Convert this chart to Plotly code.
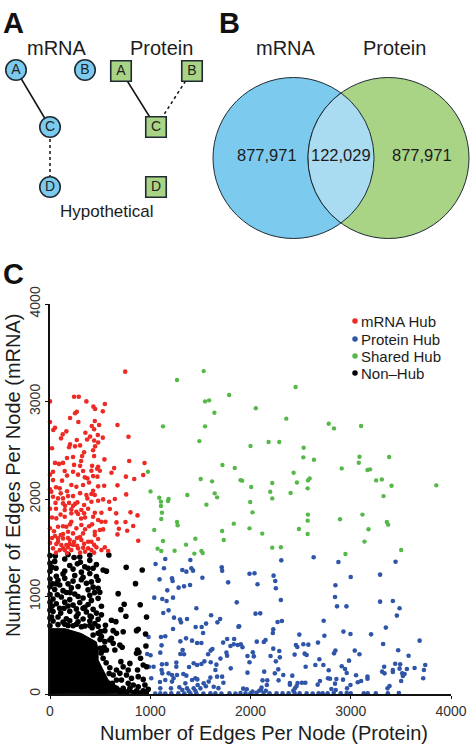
import numpy as np
import plotly.graph_objects as go

# ---------- Panel C data (edges per node: protein, mRNA) ----------
mrna_hub = [(750,3306),(240,3049),(287,3049),(0,3001),(363,3001),(547,2974),(433,2947),(450,2923),(527,2899),(267,2895),
(250,2880),(200,2830),(283,2789),(0,2790),(447,2800),(490,2759),(673,2759),(417,2748),(50,2731),(33,2707),(440,2715),(163,2694),
(353,2680),(127,2663),(110,2622),(477,2656),(527,2629),(783,2639),(267,2605),(400,2640),(370,2610),(440,2600),(480,2580),(200,2560),
(190,2530),(250,2540),(300,2550),(450,2540),(20,2520),(430,2500),(340,2480),(230,2430),(170,2420),(320,2440),(440,2440),(543,2406),
(790,2389),(943,2369),(310,2390),(50,2370),(90,2360),(130,2370),(240,2350),(300,2340),(420,2340),(480,2330),(470,2310),(640,2317),
(30,2280),(147,2287),(230,2280),(330,2287),(413,2290),(497,2290),(613,2270),(757,2229),(840,2205),(930,2246),(347,2222),(373,2212),
(213,2143),(263,2126),(330,2143),(430,2235),(473,2229),(30,2194),(120,2188),(97,2109),(13,2075),(107,2058),(540,2136),(673,2140),
(760,2047),(430,2085),(413,2051),(363,2041),(447,2041),(373,2006),(30,2023),(80,2006),(130,2006),(180,2030),(230,2030),(130,1955),
(273,1965),(340,1938),(480,1982),(530,1996),(590,1972),(647,2000),(413,1972),(147,1887),(213,1894),(263,1870),(313,1887),(340,1853),
(63,1801),(147,1818),(213,1853),(280,1846),(447,1859),(513,1859),(597,1897),(660,1853),(803,1863),(873,1832),(430,1818),(480,1784),
(513,1767),(553,1767),(213,1767),(163,1716),(80,1716),(663,1760),(753,1764),(830,1723),(313,1733),(263,1699),(687,1695),(770,1675),
(497,1682),(447,1664),(530,1688),(107,1630),(180,1664),(230,1647),(330,1647),(673,1637),(447,1630),(80,1596),(130,1596),(197,1579),
(313,1579),(380,1562),(413,1562),(480,1589),(880,1572),(80,1562),(163,1528),(230,1528),(147,1476),(213,1476),(280,1494),(380,1494),
(463,1504),(547,1504),(580,1466),(30,1494),(63,1538),(113,1528),(180,1504),(197,1538),(130,1494),(97,1476),(413,1476),(513,1476),
(0,2250),(0,2100),(0,1900),(0,1700),(0,1550),(250,1950),(200,1740),(350,1810),(390,1720),(300,1610),(270,1520),(330,1500),(170,2080),
(300,2060),(60,1900),(60,2120),(180,1600),(340,1540),(130,1640),(420,1740),(170,2240),(280,2250),(390,2170),(480,2130),(150,1930),
(55,1960),(190,1960),(380,1900),(105,1840),(310,1800),(40,1670),(130,1720),(270,1600),(50,1620),(350,1690),(240,1560),(440,1530),
(300,1450),(170,1445),(60,1450),(350,1460),(440,1450),(20,1600),(20,1810),(230,1930)]

protein_hub = [(1053,1334),(1150,1385),(1400,1375),(1137,1289),(1320,1272),(1360,1255),(1410,1289),(1427,1265),(1713,1299),(1717,1265),
(1093,1176),(1217,1187),(1223,1159),(1520,1193),(1777,1145),(1397,1118),(1337,1104),(1283,1091),(1170,1063),(1040,988),(1120,975),
(1163,954),(1227,988),(1863,940),(1460,879),(1183,858),(1130,831),(1607,807),(1237,783),(1697,769),(1670,735),(1297,763),(1307,735),
(1367,769),(1557,722),(1453,687),(1513,687),(1227,667),(1880,691),(1527,626),(983,585),(1107,585),(1150,592),(1357,571),(1300,540),
(1417,547),(1467,523),(1510,523),(1113,499),(1767,564),(1837,564),(1727,527),(1833,510),(1800,492),(1873,503),(970,410),(1003,397),
(1100,424),(1323,451),(1300,410),(1337,407),(1620,462),(1603,445),(1577,407),(1760,424),(1767,393),(1700,363),(987,280),(1033,280),
(1117,304),(1163,308),(1113,246),(1120,212),(1260,322),(1260,280),(1387,277),(1433,315),(1467,297),(1510,308),(1540,335),(1603,325),
(1660,301),(1650,246),(1803,263),(1183,212),(1217,195),(1267,195),(1233,161),(1330,205),(1360,188),(1600,168),(1667,178),(1717,178),
(1730,116),(1010,161),(1097,123),(1150,144),(1217,127),(1350,109),(1417,144),(1450,161),(1473,92),(1500,58),(1583,127),(1367,58),
(1383,31),(1433,58),(1450,34),(1207,58),(1290,68),(1533,109),(1633,75),(1100,58),(1470,150),(1555,80),(1680,60),(1320,40),
(2307,1371),(2630,1402),(2877,1354),(3447,1357),(1990,1234),(2040,1238),(2230,1214),(2247,1159),(2253,1084),(2070,1125),(3000,1200),
(3293,1224),(2847,1115),(2843,995),(2303,964),(3293,947),(3420,954),(2863,899),(2957,899),(3487,879),(2050,824),(2097,827),(3460,804),
(2270,739),(2313,749),(2730,752),(1887,694),(3350,681),(2227,663),(2223,626),(2927,640),(2997,616),(2487,609),(2737,598),(3203,612),
(2150,554),(2133,533),(2063,537),(3687,547),(2673,527),(3323,513),(1903,510),(1920,479),(2453,503),(2467,482),(2527,510),(2577,506),
(2227,465),(2287,441),(2847,445),(2833,417),(3040,445),(3087,407),(3473,448),(2023,427),(1970,390),(2033,386),(2200,390),(2293,376),
(2440,404),(2540,414),(2560,400),(3577,393),(2687,356),(2253,335),(2983,342),(1990,325),(2647,298),(2727,298),(2550,280),(2910,284),
(2943,257),(2960,216),(3333,280),(3443,311),(3493,304),(3487,260),(3420,246),(3420,226),(3560,257),(3637,267),(3743,298),(3730,246),
(2137,229),(2277,253),(2243,212),(2327,195),(2780,243),(3313,229),(3337,212),(3513,212),(3537,205),(3520,185),(1970,219),(2417,188),
(3053,192),(3167,178),(3167,157),(2773,161),(2793,157),(2857,154),(2923,147),(2280,140),(2120,140),(2167,140),(2693,133),(2670,96),
(3723,161),(3503,133),(2393,113),(2393,96),(2470,113),(2513,116),(2547,116),(2843,106),(3070,120),(3103,133),(2997,92),(2163,92),
(2460,82),(2443,58),(2427,34),(2110,65),(2103,41),(2087,34),(1927,55),(1963,48),(2807,51),(2850,41),(2963,58),(3387,82),(3367,58),
(2153,34),(2020,24),(1050,5),(1100,6),(1150,5),(1210,8),(1280,6),(1340,5),(1400,8),(1460,6),(1530,5),(1600,8),(1650,6),(1710,5),
(1790,8),(1850,5),(1900,10),(1950,6),(2000,8),(2060,12),(2130,10),(2190,8),(2260,7),(2320,6),(2380,8),(2440,10),(2490,8),(2560,6),
(2620,5),(2680,7),(2720,8),(2770,8),(2830,10),(2900,8),(2960,10),(3000,6),(3130,8),(3170,6),(3250,6),(3370,8),(3480,10)]

shared_hub = [(2450,3148),(2053,2930),(2357,2824),(2780,2772),(2833,2724),(3103,2748),(2000,2543),(2180,2584),(2287,2584),(2530,2526),
(2527,2427),(2633,2403),(3087,2434),(3080,2372),(3383,2430),(2910,2314),(3167,2297),(3193,2304),(2430,2270),(1917,2188),(2217,2164),
(2463,2170),(2573,2191),(2590,2211),(2007,2123),(2570,2109),(2197,2075),(2400,2061),(3253,2191),(3310,2201),(3407,2136),(3853,2140),
(3327,2030),(2217,2006),(1997,1969),(2020,1863),(2573,1840),(2570,1778),(2893,1792),(3117,1840),(3360,1764),(3373,1737),(1990,1699),
(2483,1693),(3177,1689),(2117,1645),(2570,1641),(3137,1563),(2217,1501),(2303,1505),(2947,1436),(3503,1477),(1267,3220),(1533,3312),
(1787,3066),(1547,3001),(1587,3012),(1640,2885),(1127,2745),(1547,2745),(1490,2594),(1720,2348),(1843,2318),(977,2280),(1503,2205),
(1617,2181),(1900,2194),(1003,2078),(1090,2013),(1183,2000),(1370,2041),(1643,2058),(1667,2017),(1107,1973),(1107,1928),(1177,1980),
(1560,1942),(1117,1860),(1110,1795),(1267,1764),(1273,1730),(1833,1747),(1040,1682),(1717,1672),(1733,1580),(1127,1569),(1450,1593),
(1357,1532),(1073,1491),(1110,1467),(1243,1470),(1440,1440),(1510,1467),(1523,1446)]

non_hub = [(53,1416),(180,1431),(297,1405),(397,1422),(587,1426),(47,1360),(147,1385),(303,1352),(397,1371),
(197,1318),(273,1335),(347,1305),(463,1327),(760,1299),(147,1262),(230,1281),(313,1250),(380,1290),(530,1272),(563,1260),(920,1272),
(63,1208),(130,1232),(247,1215),(330,1198),(397,1236),(463,1205),(80,1166),(147,1186),(230,1158),(313,1172),(413,1150),(480,1166),
(97,1118),(180,1130),(280,1102),(363,1135),(430,1096),(853,1132),(47,1072),(130,1060),(213,1088),(380,1068),(480,1084),
(73,1018),(163,1041),(247,1025),(397,1012),(497,1043),(680,1029),(30,975),(113,995),(197,968),(330,985),(413,960),(480,981),
(63,925),(147,942),(230,912),(297,938),(380,918),(97,880),(180,902),(263,873),(347,890),(430,868),(513,900),(740,920),(900,916),
(30,845),(107,830),(197,848),(280,822),(363,842),(463,830),(707,865),(80,790),(163,772),(263,795),(330,770),(413,790),(513,812),(757,797),
(30,748),(130,738),(197,752),(280,740),(397,748),(480,766),(613,756),(657,742),(80,712),(180,702),(263,716),(347,698),(447,722),(553,704),
(147,716),(230,700),(313,690),(397,702),(480,694),(963,790),
(547,650),(630,650),(663,622),(730,639),(863,650),(880,663),(953,615),(480,622),(430,605),(513,588),(613,571),(547,537),(597,554),
(630,520),(697,503),(720,479),(647,451),(563,451),(873,451),(887,427),(863,417),(957,492),(903,366),(707,332),(797,314),(530,366),
(597,270),(730,280),(780,246),(873,246),(930,297),(963,280),(663,246),(697,212),(763,195),(813,161),(880,178),(930,150),(630,195),
(663,144),(713,144),(780,109),(830,92),(880,75),(947,92),(663,58),(730,58),(797,58),(863,34),(930,34),(980,48),
(0,1420),(0,1340),(0,1260),(0,1180),(0,1100),(0,1020),(0,940),(0,860),(0,780),(0,700),(500,560),(530,450),(510,420),(560,320),(590,210),
(620,110),(700,10),(760,15),(840,12),(900,10),(960,10),(20,1300),(25,1130),(20,900),(15,790),(420,680),(505,640),(540,480),(500,470),
(240,1400),(430,1290),(200,1040),(280,1000),(445,1040),(140,880),(400,800),(330,880),(60,1130),(60,1290)]

# dense Non-Hub core, outline
core_x = [0,150,313,463,480,480,530,580,697,980,0]
core_y = [670,670,620,534,451,349,246,144,58,10,0]

axis_ticks = [0,1000,2000,3000,4000]
x_title = "Number of Edges Per Node (Protein)"
y_title = "Number of Edges Per Node (mRNA)"

hub_names = ["mRNA Hub","Protein Hub","Shared Hub","Non–Hub"]
hub_colors = ["#ee2a24","#2f55a8","#55b848","#000000"]

# ---------- Panel A ----------
mrna_nodes = {"A":(16,70),"B":(85,70),"C":(50,127),"D":(50,187)}
protein_nodes = {"A":(121,71),"B":(192,71),"C":(156,127),"D":(156,187)}
blue = "#7ccbee"; green = "#a9d485"; lens_col = "#a9dbf1"; ink = "#1f2a33"

# ---------- Panel B ----------
venn_values = ["877,971","122,029","877,971"]
venn_left = (293.5,158.0); venn_right = (388.5,158.0); venn_r = 80.5

fig = go.Figure()
AX = dict(xaxis="x2",yaxis="y2")

def xs(l): return [p[0] for p in l]
def ys(l): return [p[1] for p in l]

# lens
d = (venn_right[0]-venn_left[0])/2
a = np.arccos(d/venn_r)
t1 = np.linspace(-a,a,60)
t2 = np.linspace(np.pi-a,np.pi+a,60)
lx = np.r_[venn_left[0]+venn_r*np.cos(t1), venn_right[0]+venn_r*np.cos(t2)]
ly = np.r_[venn_left[1]+venn_r*np.sin(t1), venn_right[1]+venn_r*np.sin(t2)]
shapes=[]
for c,col in ((venn_left,blue),(venn_right,green)):
    shapes.append(dict(type="circle",xref="x2",yref="y2",x0=c[0]-venn_r,x1=c[0]+venn_r,y0=c[1]-venn_r,y1=c[1]+venn_r,
                       fillcolor=col,line=dict(color=ink,width=1),layer="below"))

# panel C scatter
fig.add_trace(go.Scatter(x=core_x,y=core_y,mode="lines",fill="toself",fillcolor="#000000",line=dict(color="#000000",width=1),
                         showlegend=False,hoverinfo="skip",cliponaxis=False))
for pts,col,name,sz in ((protein_hub,hub_colors[1],hub_names[1],4.6),(non_hub,hub_colors[3],hub_names[3],5.6),
                     (mrna_hub,hub_colors[0],hub_names[0],4.6),(shared_hub,hub_colors[2],hub_names[2],4.4)):
    fig.add_trace(go.Scatter(x=xs(pts),y=ys(pts),mode="markers",name=name,cliponaxis=False,showlegend=False,
                             marker=dict(color=col,size=sz)))

fig.add_trace(go.Scatter(x=np.r_[lx,lx[0]],y=np.r_[ly,ly[0]],mode="lines",fill="toself",fillcolor=lens_col,
                         line=dict(color=ink,width=1),hoverinfo="skip",showlegend=False,**AX))

# edges of panel A
def edge(nodes,a,b,dash):
    fig.add_trace(go.Scatter(x=[nodes[a][0],nodes[b][0]],y=[nodes[a][1],nodes[b][1]],mode="lines",
                             line=dict(color="#111111",width=1.5,dash=dash),showlegend=False,hoverinfo="skip",**AX))
edge(mrna_nodes,"A","C","solid"); edge(mrna_nodes,"C","D","dot")
edge(protein_nodes,"A","C","solid"); edge(protein_nodes,"B","C","dot")
for nodes,sym,col,size_n in ((mrna_nodes,"circle",blue,20.5),(protein_nodes,"square",green,20.5)):
    fig.add_trace(go.Scatter(x=[v[0] for v in nodes.values()],y=[v[1] for v in nodes.values()],
        mode="markers+text",text=list(nodes.keys()),textposition="middle center",
        textfont=dict(family="Liberation Sans",size=14,color="#222222"),
        marker=dict(symbol=sym,size=size_n,color=col,line=dict(color=ink,width=1.6)),showlegend=False,hoverinfo="skip",**AX))

# legend as dots + labels
leg_y=[321,339,356,373]
fig.add_trace(go.Scatter(x=[355]*4,y=leg_y,mode="markers",marker=dict(color=hub_colors,size=5.5),
                         showlegend=False,hoverinfo="skip",**AX))

FONT="Liberation Sans"
ann=[]
def T(x,y,t,size,color="#1c1c1c",anchor="center",angle=0,family=FONT):
    ann.append(dict(xref="x2",yref="y2",x=x,y=y,text=t,showarrow=False,xanchor=anchor,yanchor="middle",textangle=angle,
                    font=dict(family=family,size=size,color=color)))
for n,y in zip(hub_names,leg_y):
    T(359,y,n,15,anchor="left")
HEAVY="Liberation Sans Narrow, Liberation Sans"
T(13,23,"<b>A</b>",29,"#111111",family=HEAVY)
T(229,23,"<b>B</b>",29,"#111111",family=HEAVY)
T(13,274,"<b>C</b>",29,"#111111",family=HEAVY)
T(57,48,"mRNA",20); T(161,48,"Protein",20); T(107,211,"Hypothetical",17)
T(286,48,"mRNA",20); T(394,48,"Protein",20)
for v,x in zip(venn_values,(267,341,422)):
    T(x,155,v,16.5)
T(264,733,x_title,20); T(13,476,y_title,20,angle=-90)

fig.update_layout(width=474,height=750,margin=dict(l=0,r=0,t=0,b=0),paper_bgcolor="white",plot_bgcolor="rgba(0,0,0,0)",
    showlegend=False,shapes=shapes,annotations=ann,
    xaxis=dict(domain=[50/474,451/474],range=[0,4000],tickvals=axis_ticks,showgrid=False,zeroline=False,showline=True,
               linecolor="#111111",linewidth=1.8,ticks="outside",ticklen=3,tickcolor="#111111",automargin=False,
               tickfont=dict(family=FONT,size=14,color="#333333"),anchor="y"),
    yaxis=dict(domain=[56/750,446/750],range=[0,4000],tickvals=axis_ticks,showgrid=False,zeroline=False,showline=True,
               linecolor="#111111",linewidth=1.8,ticks="outside",ticklen=3,tickcolor="#111111",tickangle=-90,automargin=False,
               tickfont=dict(family=FONT,size=14,color="#333333"),anchor="x"),
    xaxis2=dict(domain=[0,1],range=[0,474],visible=False,anchor="y2",fixedrange=True,automargin=False),
    yaxis2=dict(domain=[0,1],range=[750,0],visible=False,anchor="x2",fixedrange=True,automargin=False),
)
fig.write_html("out.html",config={"displayModeBar":False},post_script="document.body.style.margin='0';document.body.style.overflow='hidden';")
